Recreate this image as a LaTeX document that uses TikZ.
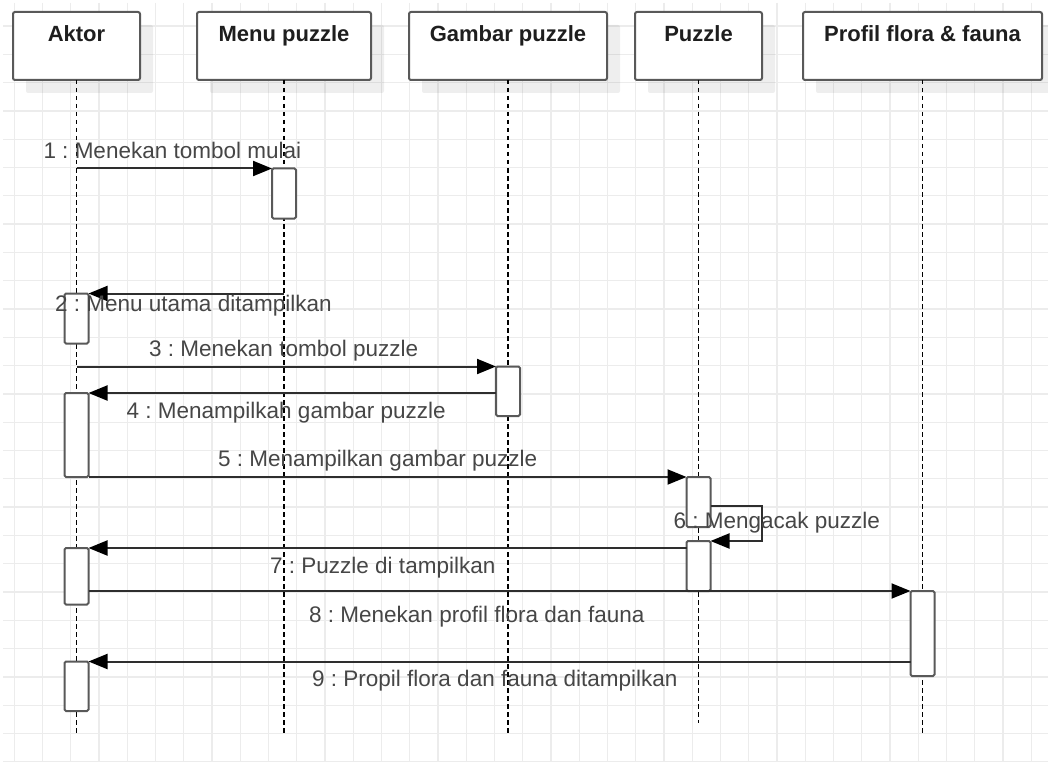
\documentclass[tikz,border=0pt]{standalone}
\usepackage{fontspec}
\setmainfont{Liberation Sans}
\usetikzlibrary{arrows.meta,shadows}
\frenchspacing

\definecolor{gridline}{HTML}{ECECEC}
\definecolor{edgegray}{HTML}{595959}
\definecolor{labelgray}{HTML}{464646}
\definecolor{headtext}{HTML}{1E1E1E}
\definecolor{msgline}{HTML}{2E2E2E}

\begin{document}
\begin{tikzpicture}[x=1pt,y=-1pt,
  headbox/.style={draw=edgegray, line width=2pt, fill=white, rounded corners=2pt,
    inner sep=0pt, outer sep=0pt, minimum height=68pt, anchor=north west,
    general shadow={fill=black, opacity=0.065, shadow xshift=13pt, shadow yshift=-13pt}},
  headtitle/.style={font=\bfseries\fontsize{22}{26}\selectfont, text=headtext,
    inner sep=0pt, anchor=base},
  lifeline/.style={draw=black, line width=1.4pt, dash pattern=on 4.5pt off 3.5pt},
  actbar/.style={draw=edgegray, line width=2pt, fill=white, rounded corners=1.5pt,
    inner sep=0pt, outer sep=0pt, minimum width=24pt, anchor=north},
  msg/.style={draw=msgline, line width=2pt,
    -{Triangle[length=19pt,width=15pt,color=black,fill=black]}},
  msglabel/.style={font=\fontsize{22.5}{27}\selectfont, text=labelgray,
    inner sep=0pt, anchor=base west}
]
% canvas
\useasboundingbox (0,0) rectangle (1048,762);
\fill[white] (0,0) rectangle (1048,762);

% background grid
\foreach \k in {0,...,36}
  \draw[gridline, line width=1.3pt] ({14.3+28.25*\k},3) -- ({14.3+28.25*\k},762);
\foreach \k in {0,...,26}
  \draw[gridline, line width=1.3pt] (3,{26+28.3*\k}) -- (1048,{26+28.3*\k});

% participant boxes
\node[headbox, minimum width=127pt] (hA) at (13,12) {};
\node[headbox, minimum width=174pt] (hM) at (197,12) {};
\node[headbox, minimum width=198pt] (hG) at (409,12) {};
\node[headbox, minimum width=127pt] (hP) at (635,12) {};
\node[headbox, minimum width=239pt] (hF) at (803,12) {};

\node[headtitle] (tA) at (76.5,42) {Aktor};
\node[headtitle] (tM) at (284,42) {Menu puzzle};
\node[headtitle] (tG) at (508,42) {Gambar puzzle};
\node[headtitle] (tP) at (698.5,42) {Puzzle};
\node[headtitle] (tF) at (922.5,42) {Profil flora \& fauna};

% lifeline ends
\coordinate (eA) at (76.5,733);
\coordinate (eM) at (284,733);
\coordinate (eG) at (508,733);
\coordinate (eP) at (698.5,723);
\coordinate (eF) at (922.5,733);

\draw[lifeline] (hA.south) -- (eA);
\draw[lifeline] (hM.south) -- (eM);
\draw[lifeline] (hG.south) -- (eG);
\draw[lifeline] (hP.south) -- (eP);
\draw[lifeline] (hF.south) -- (eF);

% activation bars
\node[actbar, minimum height=50pt]   (bM1) at (284,168.5) {};
\node[actbar, minimum height=50pt]   (bA1) at (76.5,293.5) {};
\node[actbar, minimum height=49.5pt] (bG1) at (508,366.5) {};
\node[actbar, minimum height=84pt]   (bA2) at (76.5,393) {};
\node[actbar, minimum height=50pt]   (bP1) at (698.5,477) {};
\node[actbar, minimum height=50pt]   (bP2) at (698.5,541) {};
\node[actbar, minimum height=56.5pt] (bA3) at (76.5,548) {};
\node[actbar, minimum height=85pt]   (bF1) at (922.5,591) {};
\node[actbar, minimum height=49.5pt] (bA4) at (76.5,661.5) {};

% message start points on plain lifelines
\coordinate (s1) at (76.5,168.5);
\coordinate (s2) at (284,293.5);
\coordinate (s3) at (76.5,366.5);
\coordinate (loopR) at (762,505.5);

% messages
\draw[msg] (s1) -- (bM1.north west);
\draw[msg] (s2) -- (bA1.north east);
\draw[msg] (s3) -- (bG1.north west);
\draw[msg] (bG1.west |- bA2.north) -- (bA2.north east);
\draw[msg] (bA2.south east) -- (bP1.north west);
\draw[msg] (bP1.east |- loopR) -- (loopR) |- (bP2.north east);
\draw[msg] (bP2.west |- bA3.north) -- (bA3.north east);
\draw[msg] (bA3.east |- bF1.north) -- (bF1.north west);
\draw[msg] (bF1.west |- bA4.north) -- (bA4.north east);

% message labels
\node[msglabel] (l1) at (43.3,158.3) {1 : Menekan tombol mulai};
\node[msglabel] (l2) at (55,311.7) {2 : Menu utama ditampilkan};
\node[msglabel] (l3) at (149,356) {3 : Menekan tombol puzzle};
\node[msglabel] (l4) at (126.5,418.3) {4 : Menampilkah gambar puzzle};
\node[msglabel] (l5) at (218,466.7) {5 : Menampilkan gambar puzzle};
\node[msglabel] (l6) at (673.3,528.3) {6 : Mengacak puzzle};
\node[msglabel] (l7) at (270,573) {7 : Puzzle di tampilkan};
\node[msglabel] (l8) at (309,622.3) {8 : Menekan profil flora dan fauna};
\node[msglabel] (l9) at (312,686) {9 : Propil flora dan fauna ditampilkan};
\end{tikzpicture}
\end{document}
